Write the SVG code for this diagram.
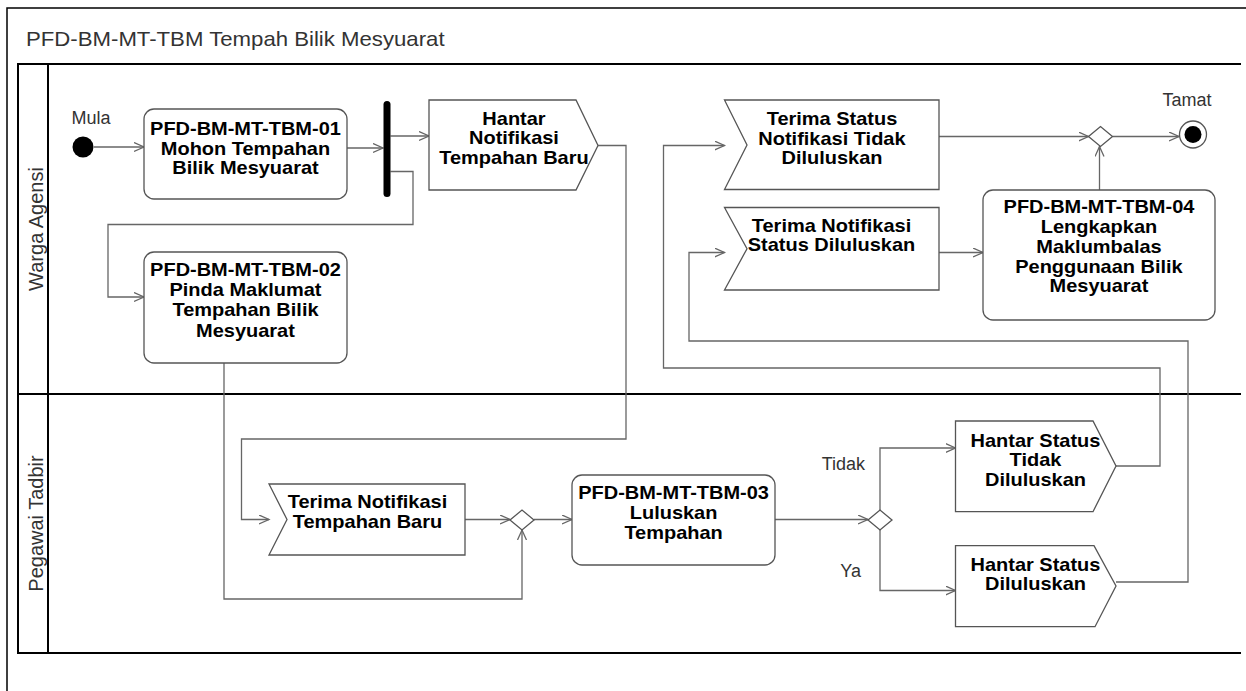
<svg xmlns="http://www.w3.org/2000/svg" width="1246" height="691" viewBox="0 0 1246 691">
<style>
  .frame { fill: none; stroke: #000; stroke-width: 1.5; }
  .pool { fill: none; stroke: #000; stroke-width: 2; }
  .act { fill: #fff; stroke: #555; stroke-width: 1.3; }
  .conn { fill: none; stroke: #666; stroke-width: 1.3; }
  .lbl { font-family: "Liberation Sans", Arial, sans-serif; font-weight: bold; font-size: 18px; fill: #000; text-anchor: middle;
         transform-box: fill-box; transform-origin: center; transform: scaleX(1.11); }
  .title { font-family: "Liberation Sans", Arial, sans-serif; font-size: 20px; fill: #333;
           transform-box: fill-box; transform-origin: left center; transform: scaleX(1.11); }
  .lane { font-family: "Liberation Sans", Arial, sans-serif; font-size: 20px; fill: #333; text-anchor: middle; }
  .small { font-family: "Liberation Sans", Arial, sans-serif; font-size: 18px; fill: #333; text-anchor: middle; }
</style>
<defs>
  <marker id="arr" markerUnits="userSpaceOnUse" markerWidth="12" markerHeight="12" refX="10" refY="5" orient="auto">
    <path d="M0,0.5 L10,5 L0,9.5" fill="none" stroke="#666" stroke-width="1.3"/>
  </marker>
</defs>
<rect width="1246" height="691" fill="#fff"/>

<g id="frame">
  <rect class="frame" x="7" y="8" width="1260" height="700"/>
  <text class="title" x="26" y="46">PFD-BM-MT-TBM Tempah Bilik Mesyuarat</text>
</g>

<g id="pool">
  <path class="pool" d="M1241,64 H18 V653 H1241 M18,394 H1241 M48,64 V653"/>
  <text class="lane" transform="translate(43,229) rotate(-90)">Warga Agensi</text>
  <text class="lane" transform="translate(43,523.5) rotate(-90)">Pegawai Tadbir</text>
</g>

<g id="connectors">
  <path class="conn" marker-end="url(#arr)" d="M94,147 H144"/>
  <path class="conn" marker-end="url(#arr)" d="M347,148 H383"/>
  <path class="conn" marker-end="url(#arr)" d="M390.5,136 H429"/>
  <path class="conn" marker-end="url(#arr)" d="M390.5,171.5 H413 V224.5 H108 V297 H144"/>
  <path class="conn" marker-end="url(#arr)" d="M598,145.5 H626 V439 H241.5 V519.5 H269"/>
  <path class="conn" marker-end="url(#arr)" d="M224,363 V599 H522 V530"/>
  <path class="conn" marker-end="url(#arr)" d="M465,519.5 H510"/>
  <path class="conn" marker-end="url(#arr)" d="M534,519.5 H572"/>
  <path class="conn" marker-end="url(#arr)" d="M775,519.5 H868"/>
  <path class="conn" marker-end="url(#arr)" d="M880,510 V448 H955.5"/>
  <path class="conn" marker-end="url(#arr)" d="M880,530 V590.5 H955.5"/>
  <path class="conn" marker-end="url(#arr)" d="M1116,466 H1160 V368 H663.5 V145.5 H724.5"/>
  <path class="conn" marker-end="url(#arr)" d="M1116,582 H1188 V341 H689 V252.5 H724.5"/>
  <path class="conn" marker-end="url(#arr)" d="M939,136.5 H1088.5"/>
  <path class="conn" marker-end="url(#arr)" d="M939,252.5 H983"/>
  <path class="conn" marker-end="url(#arr)" d="M1099.5,190 V146.5"/>
  <path class="conn" marker-end="url(#arr)" d="M1112.5,136.5 H1179"/>
</g>

<g id="start">
  <circle cx="83" cy="147" r="10.5" fill="#000"/>
  <text class="small" x="91" y="124">Mula</text>
</g>

<g id="tbm01">
  <rect class="act" x="144" y="109" width="203" height="90" rx="10"/>
  <text class="lbl" x="245.5" y="135"><tspan x="245.5">PFD-BM-MT-TBM-01</tspan><tspan x="245.5" dy="19.6">Mohon Tempahan</tspan><tspan x="245.5" dy="19.6">Bilik Mesyuarat</tspan></text>
</g>

<g id="fork">
  <line x1="387" y1="104.5" x2="387" y2="193.5" stroke="#000" stroke-width="7" stroke-linecap="round"/>
</g>

<g id="hantarNotifikasi">
  <polygon class="act" points="429,100 576,100 598,145.5 576,190 429,190"/>
  <text class="lbl" x="514" y="125"><tspan x="514">Hantar</tspan><tspan x="514" dy="19.5">Notifikasi</tspan><tspan x="514" dy="19.5">Tempahan Baru</tspan></text>
</g>

<g id="tbm02">
  <rect class="act" x="144" y="252" width="203" height="111" rx="10"/>
  <text class="lbl" x="245.5" y="276"><tspan x="245.5">PFD-BM-MT-TBM-02</tspan><tspan x="245.5" dy="20.2">Pinda Maklumat</tspan><tspan x="245.5" dy="20.2">Tempahan Bilik</tspan><tspan x="245.5" dy="20.2">Mesyuarat</tspan></text>
</g>

<g id="terimaTempahan">
  <polygon class="act" points="269,484 465,484 465,555 269,555 287,519.5"/>
  <text class="lbl" x="367.5" y="508.3"><tspan x="367.5">Terima Notifikasi</tspan><tspan x="367.5" dy="19.4">Tempahan Baru</tspan></text>
</g>

<g id="merge1">
  <polygon class="act" points="510,520 522,510 534,520 522,530"/>
</g>

<g id="tbm03">
  <rect class="act" x="572" y="475" width="203" height="90" rx="10"/>
  <text class="lbl" x="673.6" y="499.3"><tspan x="673.6">PFD-BM-MT-TBM-03</tspan><tspan x="673.6" dy="20">Luluskan</tspan><tspan x="673.6" dy="20">Tempahan</tspan></text>
</g>

<g id="decision">
  <polygon class="act" points="868,520 880,510 892,520 880,530"/>
  <text class="small" x="843.4" y="470">Tidak</text>
  <text class="small" x="850.7" y="577.3">Ya</text>
</g>

<g id="hantarTidak">
  <polygon class="act" points="955.5,421 1093,421 1116,466 1093,511.7 955.5,511.7"/>
  <text class="lbl" x="1035.5" y="446.7"><tspan x="1035.5">Hantar Status</tspan><tspan x="1035.5" dy="19.6">Tidak</tspan><tspan x="1035.5" dy="19.6">Diluluskan</tspan></text>
</g>

<g id="hantarLulus">
  <polygon class="act" points="955.5,545.7 1094,545.7 1116,586 1095,626.7 955.5,626.7"/>
  <text class="lbl" x="1035.5" y="570.7"><tspan x="1035.5">Hantar Status</tspan><tspan x="1035.5" dy="19.4">Diluluskan</tspan></text>
</g>

<g id="terimaTidak">
  <polygon class="act" points="724.5,100 939,100 939,189.5 724.5,189.5 747,145"/>
  <text class="lbl" x="832" y="125"><tspan x="832">Terima Status</tspan><tspan x="832" dy="19.6">Notifikasi Tidak</tspan><tspan x="832" dy="19.6">Diluluskan</tspan></text>
</g>

<g id="terimaLulus">
  <polygon class="act" points="724.5,207.5 939,207.5 939,290 724.5,290 747,248.7"/>
  <text class="lbl" x="831.5" y="231.7"><tspan x="831.5">Terima Notifikasi</tspan><tspan x="831.5" dy="19">Status Diluluskan</tspan></text>
</g>

<g id="tbm04">
  <rect class="act" x="983" y="190" width="232" height="130" rx="10"/>
  <text class="lbl" x="1099" y="213.3"><tspan x="1099">PFD-BM-MT-TBM-04</tspan><tspan x="1099" dy="19.8">Lengkapkan</tspan><tspan x="1099" dy="19.8">Maklumbalas</tspan><tspan x="1099" dy="19.8">Penggunaan Bilik</tspan><tspan x="1099" dy="19.8">Mesyuarat</tspan></text>
</g>

<g id="merge2">
  <polygon class="act" points="1088.5,136.5 1100.5,126.5 1112.5,136.5 1100.5,146.5"/>
</g>

<g id="end">
  <circle cx="1193" cy="134.5" r="13.5" fill="#fff" stroke="#555" stroke-width="1.3"/>
  <circle cx="1193" cy="134.5" r="8.5" fill="#000"/>
  <text class="small" x="1187" y="106">Tamat</text>
</g>
</svg>
